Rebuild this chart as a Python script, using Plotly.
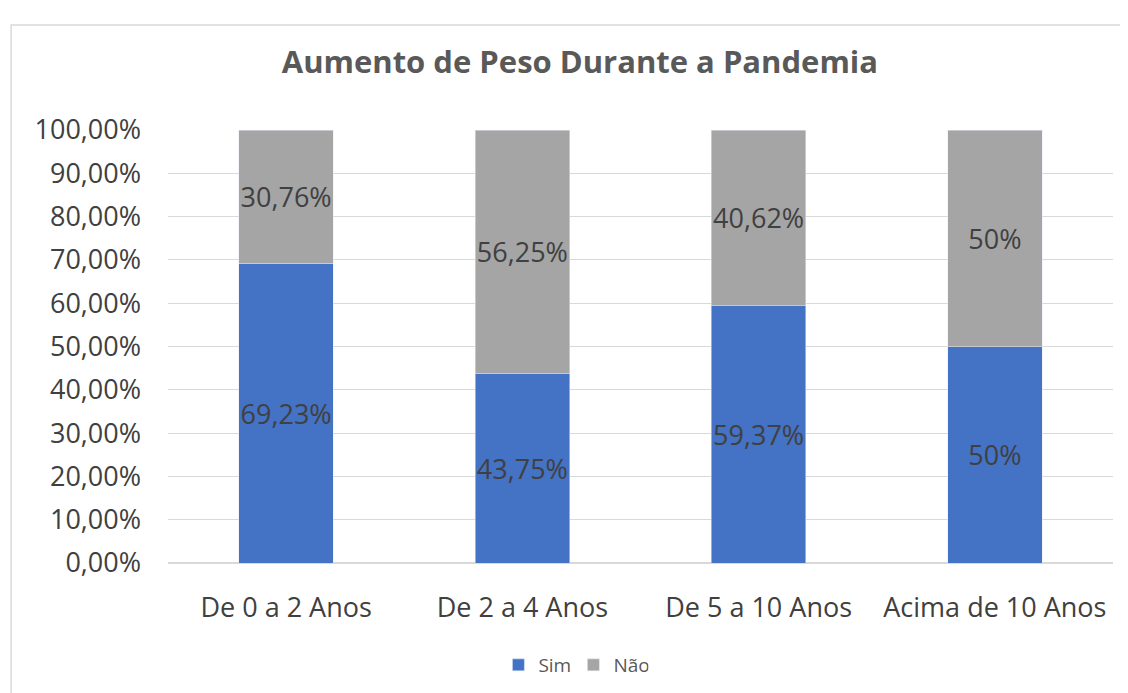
import plotly.graph_objects as go

categories = ["De 0 a 2 Anos", "De 2 a 4 Anos", "De 5 a 10 Anos", "Acima de 10 Anos"]
sim_values = [69.23, 43.75, 59.37, 50]
nao_values = [30.76, 56.25, 40.62, 50]
sim_labels = ["69,23%", "43,75%", "59,37%", "50%"]
nao_labels = ["30,76%", "56,25%", "40,62%", "50%"]
tick_vals = [0, 10, 20, 30, 40, 50, 60, 70, 80, 90, 100]
tick_text = ["0,00%", "10,00%", "20,00%", "30,00%", "40,00%", "50,00%",
             "60,00%", "70,00%", "80,00%", "90,00%", "100,00%"]

FONT = "Open Sans"
TXT = "#404040"

fig = go.Figure()
fig.add_trace(go.Bar(
    name="Sim", x=categories, y=sim_values, marker_color="#4472C4",
    text=sim_labels, textposition="inside", insidetextanchor="middle",
    textangle=0, constraintext="none",
    textfont=dict(family=FONT, size=27, color=TXT),
))
fig.add_trace(go.Bar(
    name="Não", x=categories, y=nao_values, marker_color="#A5A5A5",
    text=nao_labels, textposition="inside", insidetextanchor="middle",
    textangle=0, constraintext="none",
    textfont=dict(family=FONT, size=27, color=TXT),
))

fig.update_layout(
    barmode="stack",
    bargap=0.6,
    width=1128, height=693,
    margin=dict(l=160, r=23, t=122, b=138),
    plot_bgcolor="white", paper_bgcolor="white",
    title=dict(text="<b>Aumento de Peso Durante a Pandemia</b>",
               x=0.507, xanchor="center", y=0.922, yanchor="middle",
               font=dict(family=FONT, size=31, color="#595959")),
    xaxis=dict(tickfont=dict(family=FONT, size=27, color=TXT),
               showline=False, ticks="", ticklabelstandoff=26),
    yaxis=dict(range=[0, 100], tickvals=tick_vals, ticktext=tick_text,
               tickfont=dict(family=FONT, size=27, color=TXT),
               showgrid=True, gridcolor="#D9D9D9", gridwidth=1,
               zeroline=True, zerolinecolor="#D9D9D9", ticks="",
               ticklabelstandoff=26),
    legend=dict(orientation="h", x=0.429, xanchor="center", y=-0.2356,
                yanchor="middle", font=dict(family=FONT, size=19, color="#595959"),
                itemwidth=30, entrywidth=30, traceorder="normal"),
    shapes=[dict(type="rect", xref="paper", yref="paper",
                 x0=-0.166, x1=1.03, y0=-0.35, y1=1.2425,
                 line=dict(color="#D9D9D9", width=1.5), layer="below")],
)

fig.write_html("out.html")
